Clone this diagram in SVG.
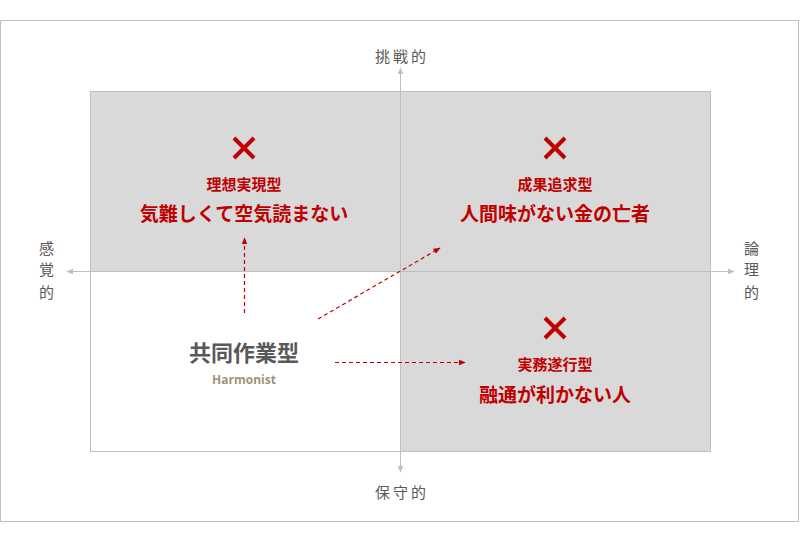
<svg xmlns="http://www.w3.org/2000/svg" width="800" height="543" viewBox="0 0 800 543">
<style>
text{font-family:"Noto Sans CJK JP","Noto Sans",sans-serif;}
.ax{font-size:15px;fill:#595959;letter-spacing:3px;}
.q1{font-size:15px;font-weight:bold;fill:#c00000;}
.q2{font-size:19px;font-weight:bold;fill:#c00000;}
.x{stroke:#c00000;stroke-width:4;stroke-linecap:butt;}
.axl{stroke:#bfbfbf;stroke-width:1;}
.dash{stroke:#c00000;stroke-width:1.2;stroke-dasharray:4 3;fill:none;}
</style>
<defs>
<marker id="ga" viewBox="0 0 10 10" refX="9" refY="5" markerWidth="7" markerHeight="7" orient="auto"><path d="M0,1L10,5L0,9z" fill="#bfbfbf"/></marker>
<marker id="ra" viewBox="0 0 10 10" refX="9" refY="5" markerWidth="6" markerHeight="6" orient="auto"><path d="M0,1L10,5L0,9z" fill="#c00000"/></marker>
</defs>
<rect x="0.5" y="20.5" width="798" height="501" fill="#fff" stroke="#bfbfbf"/>
<g id="quadrants">
<rect x="90.5" y="91.5" width="620" height="360" fill="#fff" stroke="#bfbfbf"/>
<rect x="90.5" y="91.5" width="310" height="180" fill="#d9d9d9" stroke="#bfbfbf"/>
<rect x="400.5" y="91.5" width="310" height="180" fill="#d9d9d9" stroke="#bfbfbf"/>
<rect x="400.5" y="271.5" width="310" height="180" fill="#d9d9d9" stroke="#bfbfbf"/>
</g>
<g id="axes">
<line class="axl" x1="400.5" y1="271" x2="400.5" y2="68" marker-end="url(#ga)"/>
<line class="axl" x1="400.5" y1="271" x2="400.5" y2="472" marker-end="url(#ga)"/>
<line class="axl" x1="400" y1="271.5" x2="67" y2="271.5" marker-end="url(#ga)"/>
<line class="axl" x1="400" y1="271.5" x2="734" y2="271.5" marker-end="url(#ga)"/>
<text class="ax" x="402" y="62" text-anchor="middle">挑戦的</text>
<text class="ax" x="402" y="498" text-anchor="middle">保守的</text>
<text class="ax" x="48" y="254" text-anchor="middle">感</text>
<text class="ax" x="48" y="275" text-anchor="middle">覚</text>
<text class="ax" x="48" y="298" text-anchor="middle">的</text>
<text class="ax" x="753" y="254" text-anchor="middle">論</text>
<text class="ax" x="753" y="275" text-anchor="middle">理</text>
<text class="ax" x="753" y="298" text-anchor="middle">的</text>
</g>
<g id="q-tl">
<path class="x" d="M234,138L254,158M254,138L234,158"/>
<text class="q1" x="244" y="190" text-anchor="middle">理想実現型</text>
<text class="q2" x="244" y="221" text-anchor="middle">気難しくて空気読まない</text>
</g>
<g id="q-tr">
<path class="x" d="M545,138L565,158M565,138L545,158"/>
<text class="q1" x="555" y="190" text-anchor="middle">成果追求型</text>
<text class="q2" x="555" y="221" text-anchor="middle">人間味がない金の亡者</text>
</g>
<g id="q-br">
<path class="x" d="M545,318L565,338M565,318L545,338"/>
<text class="q1" x="555" y="370" text-anchor="middle">実務遂行型</text>
<text class="q2" x="555" y="402" text-anchor="middle">融通が利かない人</text>
</g>
<g id="center">
<text x="244" y="361" text-anchor="middle" font-size="22" font-weight="bold" fill="#595959">共同作業型</text>
<text x="244" y="384" text-anchor="middle" font-size="12" font-weight="bold" fill="#a69174" style="font-family:'Open Sans',sans-serif">Harmonist</text>
</g>
<g id="connectors">
<line class="dash" x1="244.5" y1="313" x2="244.5" y2="238" marker-end="url(#ra)"/>
<line class="dash" x1="318" y1="319" x2="440" y2="248" marker-end="url(#ra)"/>
<line class="dash" x1="335" y1="362.5" x2="465" y2="362.5" marker-end="url(#ra)"/>
</g>
</svg>
